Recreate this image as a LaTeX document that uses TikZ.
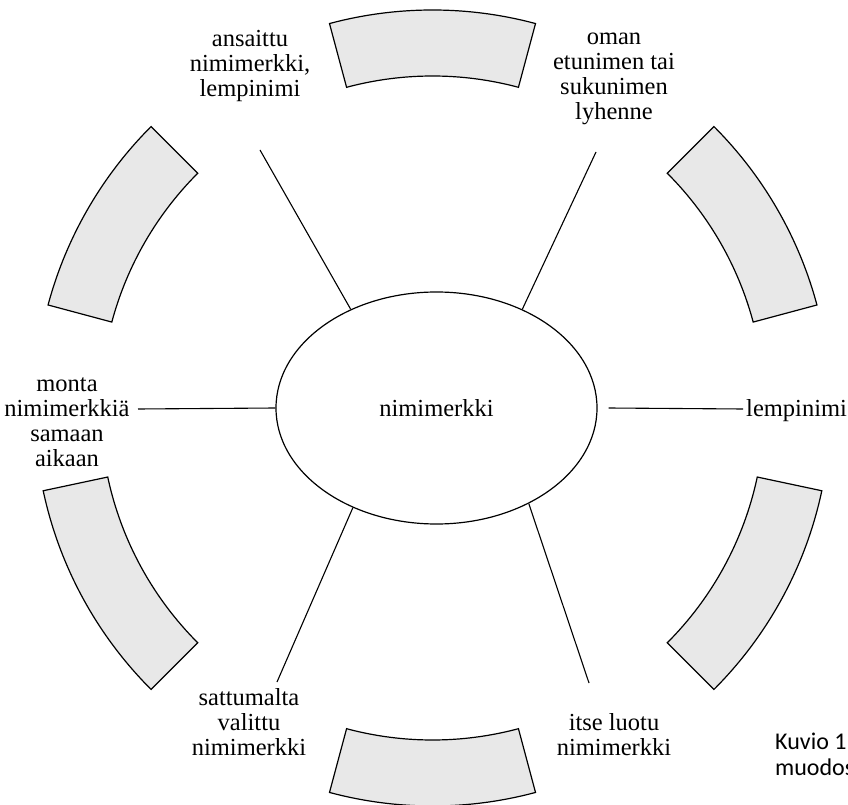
\documentclass[tikz,border=0pt]{standalone}
\usepackage{fontspec}
\setmainfont{Liberation Serif}
\newfontfamily\capfont{Carlito}
\usetikzlibrary{shapes.geometric}
\definecolor{segfill}{HTML}{E8E8E8}
% centred multi-line label whose baseline is the first line
\newcommand{\stack}[1]{\begin{tabular}[t]{@{}c@{}}#1\end{tabular}}
\newcommand{\lstack}[1]{\begin{tabular}[t]{@{}l@{}}#1\end{tabular}}

\begin{document}
\begin{tikzpicture}[x=1pt,y=1pt,
  seg/.style={draw=black, fill=segfill, line width=1.2pt, line join=miter},
  link/.style={draw=black, line width=1.1pt},
  lbl/.style={inner sep=0pt, anchor=base, font=\fontsize{24.5}{25}\selectfont},
  hub/.style={ellipse, draw, line width=1.2pt, minimum width=321pt,
              minimum height=232pt, inner sep=0pt, font=\fontsize{24.5}{25}\selectfont}]
\useasboundingbox (0,0) rectangle (848,804);
\clip (0,0) rectangle (848,804);

% ring of six shaded segments (start angle / end angle)
\coordinate (o) at (432.5,396);
\foreach \s/\e in {75/105, 135/165, 192/225, 255/285, 315/348, 15/45}{
  \path[seg, shift={(o)}] (\s:398) arc[start angle=\s, end angle=\e, radius=398]
    -- (\e:332) arc[start angle=\e, end angle=\s, radius=332] -- cycle;
}

% central ellipse
\node[hub] (hub) at (436.5,396) {nimimerkki};

% labels
\node[lbl] (ansaittu) at (250,757) {\stack{ansaittu\\nimimerkki,\\lempinimi}};
\node[lbl] (oman) at (614,759) {\stack{oman\\etunimen tai\\sukunimen\\lyhenne}};
\node[lbl] (monta) at (67,412) {\stack{monta\\nimimerkkiä\\samaan\\aikaan}};
\node[lbl, anchor=base west] (lempi) at (746,387) {lempinimi};
\node[lbl] (sattuma) at (249,99) {\stack{sattumalta\\valittu\\nimimerkki}};
\node[lbl] (itse) at (614,74) {\stack{itse luotu\\nimimerkki}};
\node[inner sep=0pt, anchor=base west, font=\capfont\fontsize{24}{26}\selectfont]
  (kuvio) at (775,55) {\lstack{Kuvio 1\\muodos}};

% free ends of the spokes
\coordinate (ulend) at (260,654);
\coordinate (urend) at (596,652);
\coordinate (llend) at (277,122);
\coordinate (lrend) at (589,121);
\coordinate (lend) at (138,395);
\coordinate (rend) at (743,395);

% spokes
\draw[link] (hub.131) -- (ulend);
\draw[link] (hub.49) -- (urend);
\draw[link] (hub.230) -- (llend);
\draw[link] (hub.314) -- (lrend);
\draw[link] (hub.180) -- (lend);
\draw[link] ([xshift=11pt]hub.0) -- (rend);
\end{tikzpicture}
\end{document}
